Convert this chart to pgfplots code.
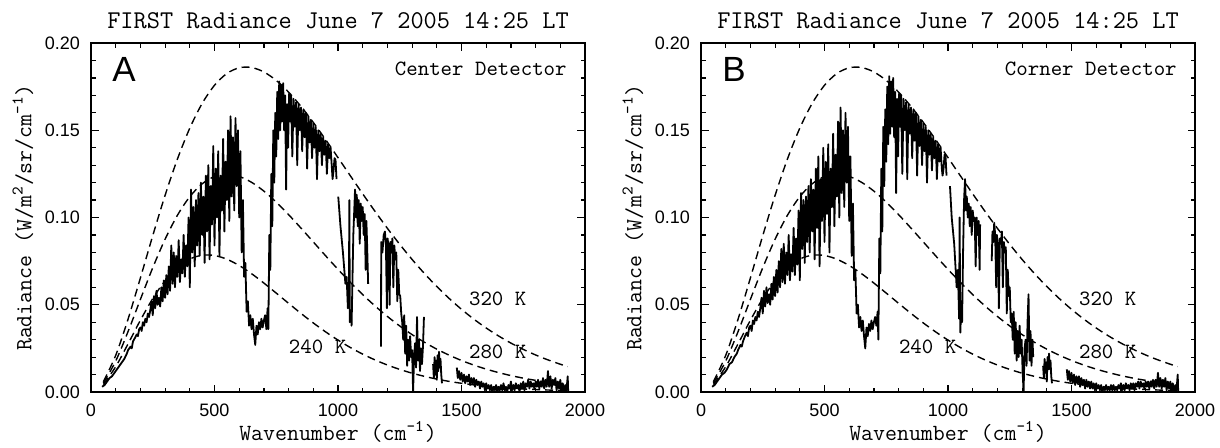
\documentclass[border=0pt]{standalone}
\usepackage{pgfplots}
\pgfplotsset{compat=1.18}
\usepackage{fontspec}
\newfontfamily\sansf{Liberation Sans}
\pgfplotstableread{
nu b240 b280 b320
50 0.00426 0.00508 0.00591
100 0.01450 0.01773 0.02098
150 0.02758 0.03461 0.04175
200 0.04113 0.05309 0.06537
250 0.05354 0.07121 0.08959
300 0.06380 0.08758 0.11272
350 0.07140 0.10131 0.13353
400 0.07622 0.11194 0.15123
450 0.07839 0.11930 0.16537
500 0.07822 0.12349 0.17578
550 0.07611 0.12478 0.18252
600 0.07250 0.12353 0.18581
650 0.06781 0.12017 0.18597
700 0.06242 0.11512 0.18341
750 0.05667 0.10882 0.17856
800 0.05081 0.10165 0.17185
850 0.04506 0.09394 0.16369
900 0.03958 0.08600 0.15450
950 0.03445 0.07805 0.14460
1000 0.02975 0.07029 0.13432
1050 0.02550 0.06285 0.12390
1100 0.02171 0.05583 0.11357
1150 0.01838 0.04930 0.10350
1200 0.01547 0.04330 0.09381
1250 0.01295 0.03783 0.08461
1300 0.01079 0.03290 0.07596
1350 0.00896 0.02849 0.06790
1400 0.00740 0.02457 0.06045
1450 0.00609 0.02111 0.05362
1500 0.00500 0.01807 0.04739
1550 0.00409 0.01542 0.04175
1600 0.00333 0.01312 0.03667
1650 0.00271 0.01113 0.03212
1700 0.00219 0.00941 0.02805
1750 0.00177 0.00794 0.02444
1800 0.00143 0.00668 0.02123
1850 0.00115 0.00561 0.01841
1900 0.00092 0.00470 0.01593
1930 0.00081 0.00422 0.01459
}\planck
\pgfplotsset{
  panel/.style={
    scale only axis, width=247pt, height=174.5pt,
    anchor=south west,
    xmin=0, xmax=2000, ymin=0, ymax=0.2,
    xtick={0,500,1000,1500,2000}, minor x tick num=4,
    ytick={0,0.05,0.1,0.15,0.2}, minor y tick num=4,
    tick align=inside, xtick pos=both, ytick pos=both,
    xticklabel pos=bottom, yticklabel pos=left,
    major tick length=3.75pt, minor tick length=2.25pt,
    axis line style={line width=0.9pt},
    every tick/.style={black, line width=0.6pt},
    tick label style={font=\sansf\fontsize{9}{10}\selectfont},
    /pgf/number format/assume math mode=true,
    /pgf/number format/1000 sep={},
    scaled y ticks=false,
    yticklabel style={/pgf/number format/fixed, /pgf/number format/fixed zerofill, /pgf/number format/precision=2, xshift=-2pt},
    xticklabel style={yshift=-2.5pt},
  },
  bb/.style={black, dash pattern=on 4pt off 2.5pt, line width=0.7pt, smooth},
  sp/.style={black, line width=0.9pt, line join=round},
}
\newcommand{\annot}{\ttfamily\fontsize{10.9}{11}\selectfont}
\newcommand{\lab}{\ttfamily\fontsize{11.6}{12}\selectfont}
\newcommand{\ttl}{\ttfamily\fontsize{12.8}{13}\selectfont}
\begin{document}
\begin{tikzpicture}
\useasboundingbox (0,0) rectangle (610pt,223.5pt);
% ---------------- Panel A ----------------
\begin{axis}[panel, name=A, at={(45.5pt,27.5pt)}]
\addplot[bb] table[x=nu,y=b240]{\planck};
\addplot[bb] table[x=nu,y=b280]{\planck};
\addplot[bb] table[x=nu,y=b320]{\planck};
\addplot[sp] coordinates {(45,0.003)(55,0.004)(65,0.006)(75,0.008)(85,0.009)(95,0.011)(105,0.013)(115,0.015)(125,0.017)(135,0.019)(145,0.022)(150,0.024)(160,0.026)(165,0.025)(170,0.029)(178,0.031)(185,0.033)(190,0.032)(195,0.036)(200,0.037)(205,0.035)(210,0.040)(215,0.038)(220,0.042)(225,0.040)(230,0.045)(235,0.043)(240,0.047)
(245,0.052)(250,0.044)(255,0.055)(260,0.048)(265,0.058)(270,0.050)(275,0.054)(280,0.049)(285,0.060)(290,0.052)(295,0.064)(300,0.054)(305,0.067)(310,0.056)(315,0.072)(320,0.058)(325,0.084)(330,0.062)(335,0.080)(340,0.060)(345,0.078)(350,0.066)(355,0.087)(360,0.063)(365,0.076)(370,0.068)(375,0.090)(380,0.066)(385,0.084)(390,0.072)(395,0.100)(400,0.060)(405,0.116)(410,0.080)(415,0.106)(420,0.072)(425,0.110)(430,0.084)(435,0.114)(440,0.078)(445,0.120)(450,0.090)(455,0.112)(460,0.074)(465,0.124)(470,0.092)(475,0.130)(480,0.076)(485,0.118)(490,0.096)(495,0.141)(500,0.084)(505,0.128)(510,0.100)(515,0.138)(520,0.078)(525,0.124)(530,0.104)(535,0.145)(540,0.092)(545,0.132)(550,0.110)(555,0.150)(560,0.098)(565,0.158)(570,0.112)(575,0.146)(580,0.104)(585,0.157)(590,0.118)(595,0.150)(600,0.100)(605,0.138)(610,0.080)(615,0.110)(620,0.066)(625,0.074)(630,0.046)(635,0.052)(640,0.038)(645,0.044)(650,0.036)(655,0.042)(660,0.033)(665,0.027)(670,0.038)(675,0.033)(680,0.040)(685,0.036)(690,0.042)(695,0.037)(700,0.041)(705,0.044)(710,0.036)(715,0.048)(718,0.036)(722,0.090)(726,0.070)(730,0.125)(734,0.095)(738,0.150)(742,0.120)(746,0.160)(750,0.135)(754,0.172)(758,0.145)(762,0.178)(766,0.150)(770,0.176)(774,0.155)(778,0.177)(782,0.150)(786,0.170)(790,0.116)(794,0.165)(798,0.140)
(802,0.171)(806,0.155)(810,0.170)(815,0.135)(820,0.168)(825,0.152)(830,0.166)(835,0.130)(840,0.165)(845,0.150)(850,0.163)(855,0.138)(860,0.162)(865,0.146)(870,0.160)(875,0.128)(880,0.158)(885,0.143)(890,0.156)(895,0.134)(900,0.154)(905,0.140)(910,0.152)(915,0.122)(920,0.150)(925,0.138)(930,0.148)(935,0.130)(940,0.146)(945,0.136)(950,0.144)(955,0.125)(960,0.142)(965,0.134)(970,0.140)(975,0.129)(978,0.122)(982,0.127)(986,0.134)(990,0.133)(994,0.122)};
\addplot[sp] coordinates {(1001,0.112)(1010,0.095)(1020,0.080)(1030,0.062)(1035,0.066)(1040,0.048)(1044,0.055)(1046,0.110)(1048,0.040)(1052,0.046)(1055,0.038)(1058,0.060)(1062,0.090)(1066,0.105)(1069,0.116)(1073,0.100)(1076,0.113)(1080,0.095)(1084,0.110)(1088,0.085)(1092,0.108)(1096,0.098)(1100,0.106)(1104,0.090)(1108,0.102)(1112,0.070)(1115,0.098)(1118,0.084)(1122,0.062)};
\addplot[sp] coordinates {(1174,0.026)(1175,0.086)(1180,0.080)(1185,0.090)(1190,0.092)(1194,0.084)(1198,0.048)(1201,0.088)(1205,0.082)(1209,0.050)(1212,0.086)(1216,0.080)(1220,0.088)(1224,0.060)(1228,0.084)(1232,0.076)(1236,0.080)(1240,0.052)(1244,0.070)(1248,0.056)(1252,0.055)(1256,0.045)(1260,0.040)(1264,0.030)(1268,0.044)(1272,0.022)(1276,0.038)(1280,0.015)(1284,0.030)(1288,0.018)(1292,0.032)(1296,0.020)(1300,0.024)(1304,0.000)(1308,0.020)(1312,0.028)(1316,0.014)(1320,0.043)(1324,0.018)(1328,0.030)(1332,0.012)(1336,0.025)(1340,0.016)(1344,0.026)(1348,0.043)};
\addplot[sp] coordinates {(1385,0.016)(1388,0.008)(1391,0.020)(1394,0.010)(1397,0.018)(1400,0.007)(1403,0.021)(1406,0.012)(1409,0.023)(1412,0.014)(1415,0.019)(1418,0.010)(1421,0.005)};
\addplot[sp] coordinates {(1481,0.014)(1485,0.008)(1490,0.012)(1495,0.007)(1500,0.011)(1505,0.006)(1510,0.010)(1515,0.005)(1520,0.009)(1525,0.006)(1530,0.010)(1535,0.004)(1540,0.008)(1545,0.005)(1550,0.008)(1555,0.003)(1560,0.007)(1565,0.004)(1570,0.006)(1575,0.002)(1580,0.006)(1585,0.003)(1590,0.005)(1595,0.001)(1600,0.005)(1605,0.002)(1610,0.004)(1615,0.001)(1620,0.004)(1625,0.000)(1630,0.003)(1635,0.001)(1640,0.004)(1645,0.000)(1650,0.003)(1655,0.001)(1660,0.004)(1665,0.001)(1670,0.005)(1675,0.001)(1680,0.003)(1685,0.000)(1690,0.004)(1695,0.002)(1700,0.006)(1705,0.001)(1710,0.004)(1715,0.001)(1720,0.005)(1725,0.002)(1730,0.004)(1735,0.000)(1740,0.005)(1745,0.002)(1750,0.006)(1755,0.001)(1760,0.005)(1765,0.003)(1770,0.007)(1775,0.002)(1780,0.006)(1785,0.003)(1790,0.005)(1795,0.002)(1800,0.006)(1805,0.003)(1810,0.007)(1815,0.002)(1820,0.006)(1825,0.003)(1830,0.008)(1835,0.002)(1840,0.007)(1845,0.003)(1850,0.012)(1855,0.003)(1860,0.009)(1865,0.002)(1870,0.007)(1875,0.004)(1880,0.008)(1885,0.001)(1890,0.006)(1895,0.002)(1900,0.007)(1905,0.001)(1910,0.005)(1915,0.000)(1920,0.004)(1925,0.001)(1930,0.009)(1932,0.000)};
\node[anchor=west, font=\annot] at (axis cs:1202,0.185) {Center Detector};
\node[anchor=west, font=\annot] at (axis cs:1502,0.0534) {320 K};
\node[anchor=west, font=\annot] at (axis cs:1502,0.023) {280 K};
\node[anchor=west, font=\annot] at (axis cs:773,0.0259) {240 K};
\node[font=\sansf\fontsize{17.5}{18}\selectfont] at (axis cs:134,0.185) {A};
\end{axis}
\node[anchor=base, font=\ttl] at ([yshift=7.5pt]A.north) {FIRST Radiance June 7 2005 14:25 LT};
\node[anchor=base, font=\lab] at ([yshift=-24pt]A.south) {Wavenumber (cm\textsuperscript{-1})};
\node[rotate=90, font=\lab] at ([xshift=-34pt]A.west) {Radiance (W/m\textsuperscript{2}/sr/cm\textsuperscript{-1})};
% ---------------- Panel B ----------------
\begin{axis}[panel, name=B, at={(350.5pt,27.5pt)}]
\addplot[bb] table[x=nu,y=b240]{\planck};
\addplot[bb] table[x=nu,y=b280]{\planck};
\addplot[bb] table[x=nu,y=b320]{\planck};
\addplot[sp] coordinates {(45,0.003)(55,0.004)(65,0.006)(75,0.008)(85,0.010)(95,0.011)(105,0.013)(115,0.016)(125,0.017)(135,0.020)(145,0.022)(150,0.024)(160,0.027)(165,0.026)(170,0.029)(178,0.032)(185,0.034)(190,0.032)(195,0.037)(200,0.038)(205,0.035)(210,0.041)(215,0.039)(220,0.043)(225,0.041)(230,0.046)(235,0.043)(240,0.048)
(245,0.054)(250,0.045)(255,0.058)(260,0.049)(265,0.060)(270,0.051)(275,0.056)(280,0.050)(285,0.062)(290,0.053)(295,0.066)(300,0.055)(305,0.070)(310,0.057)(315,0.075)(320,0.060)(325,0.082)(330,0.063)(335,0.085)(340,0.062)(345,0.080)(350,0.067)(355,0.090)(360,0.064)(365,0.079)(370,0.069)(375,0.094)(380,0.067)(385,0.088)(390,0.073)(395,0.104)(400,0.064)(405,0.114)(410,0.082)(415,0.110)(420,0.074)(425,0.112)(430,0.086)(435,0.118)(440,0.080)(445,0.122)(450,0.092)(455,0.116)(460,0.076)(465,0.128)(470,0.094)(475,0.135)(480,0.072)(485,0.122)(490,0.098)(495,0.140)(500,0.086)(505,0.132)(510,0.102)(515,0.142)(520,0.080)(525,0.128)(530,0.106)(535,0.148)(540,0.095)(545,0.136)(550,0.112)(555,0.155)(560,0.100)(565,0.163)(570,0.114)(575,0.150)(580,0.106)(585,0.160)(590,0.120)(595,0.152)(600,0.098)(605,0.135)(610,0.078)(615,0.108)(620,0.064)(625,0.070)(630,0.045)(635,0.050)(640,0.037)(645,0.043)(650,0.035)(655,0.041)(660,0.032)(665,0.025)(670,0.037)(675,0.032)(680,0.039)(685,0.035)(690,0.041)(695,0.036)(700,0.040)(705,0.043)(710,0.038)(715,0.046)(718,0.030)(722,0.088)(726,0.068)(730,0.128)(734,0.092)(738,0.152)(742,0.118)(746,0.162)(750,0.132)(754,0.175)(758,0.142)(762,0.181)(766,0.148)(770,0.178)(774,0.152)(778,0.180)(782,0.146)(786,0.172)(790,0.114)(794,0.168)(798,0.135)
(802,0.171)(806,0.152)(810,0.170)(815,0.125)(820,0.168)(825,0.150)(830,0.166)(835,0.122)(840,0.165)(845,0.148)(850,0.163)(855,0.134)(860,0.162)(865,0.144)(870,0.160)(875,0.124)(880,0.158)(885,0.141)(890,0.156)(895,0.130)(900,0.154)(905,0.138)(910,0.152)(915,0.120)(920,0.150)(925,0.136)(930,0.148)(935,0.127)(940,0.146)(945,0.134)(950,0.144)(955,0.122)(960,0.142)(965,0.132)(970,0.140)(975,0.128)(978,0.124)(982,0.128)(986,0.136)(990,0.135)(994,0.124)};
\addplot[sp] coordinates {(1008,0.118)(1015,0.100)(1025,0.085)(1035,0.060)(1040,0.070)(1045,0.042)(1047,0.100)(1050,0.034)(1053,0.048)(1057,0.040)(1061,0.080)(1065,0.110)(1069,0.122)(1073,0.104)(1076,0.112)(1080,0.100)(1084,0.108)(1088,0.095)(1092,0.106)(1096,0.090)(1100,0.104)(1104,0.098)(1108,0.100)(1112,0.072)(1116,0.100)(1120,0.090)(1124,0.098)(1128,0.070)(1130,0.096)};
\addplot[sp] coordinates {(1177,0.075)(1180,0.092)(1184,0.086)(1187,0.097)(1191,0.090)(1195,0.060)(1198,0.090)(1202,0.084)(1206,0.048)(1210,0.088)(1214,0.085)(1218,0.092)(1222,0.060)(1226,0.086)(1230,0.080)(1234,0.083)(1238,0.045)(1242,0.070)(1246,0.055)(1250,0.060)(1254,0.040)(1258,0.045)(1262,0.030)(1266,0.046)(1270,0.022)(1274,0.040)(1278,0.018)(1282,0.035)(1286,0.020)(1290,0.038)(1294,0.022)(1298,0.030)(1302,0.012)(1306,0.000)(1310,0.025)(1314,0.030)(1318,0.015)(1322,0.040)(1326,0.056)(1330,0.018)(1334,0.035)(1338,0.015)(1342,0.030)(1345,0.020)};
\addplot[sp] coordinates {(1385,0.015)(1388,0.008)(1391,0.019)(1394,0.011)(1397,0.017)(1400,0.006)(1403,0.020)(1406,0.013)(1409,0.022)(1412,0.013)(1415,0.018)(1418,0.009)(1421,0.005)};
\addplot[sp] coordinates {(1481,0.013)(1485,0.007)(1490,0.012)(1495,0.006)(1500,0.011)(1505,0.005)(1510,0.010)(1515,0.004)(1520,0.009)(1525,0.005)(1530,0.009)(1535,0.003)(1540,0.008)(1545,0.004)(1550,0.007)(1555,0.002)(1560,0.007)(1565,0.003)(1570,0.006)(1575,0.002)(1580,0.006)(1585,0.002)(1590,0.005)(1595,0.001)(1600,0.005)(1605,0.002)(1610,0.004)(1615,0.001)(1620,0.004)(1625,0.000)(1630,0.003)(1635,0.001)(1640,0.004)(1645,0.001)(1650,0.003)(1655,0.001)(1660,0.004)(1665,0.001)(1670,0.004)(1675,0.001)(1680,0.003)(1685,0.001)(1690,0.004)(1695,0.002)(1700,0.005)(1705,0.001)(1710,0.004)(1715,0.001)(1720,0.005)(1725,0.002)(1730,0.004)(1735,0.001)(1740,0.005)(1745,0.002)(1750,0.005)(1755,0.001)(1760,0.005)(1765,0.003)(1770,0.006)(1775,0.002)(1780,0.006)(1785,0.003)(1790,0.005)(1795,0.002)(1800,0.006)(1805,0.003)(1810,0.006)(1815,0.002)(1820,0.006)(1825,0.003)(1830,0.007)(1835,0.002)(1840,0.007)(1845,0.003)(1850,0.011)(1855,0.003)(1860,0.008)(1865,0.002)(1870,0.007)(1875,0.003)(1880,0.008)(1885,0.001)(1890,0.006)(1895,0.002)(1900,0.006)(1905,0.001)(1910,0.005)(1915,0.000)(1920,0.004)(1925,0.001)(1930,0.010)(1932,0.000)};
\node[anchor=west, font=\annot] at (axis cs:1202,0.185) {Corner Detector};
\node[anchor=west, font=\annot] at (axis cs:1502,0.0534) {320 K};
\node[anchor=west, font=\annot] at (axis cs:1502,0.023) {280 K};
\node[anchor=west, font=\annot] at (axis cs:773,0.0259) {240 K};
\node[font=\sansf\fontsize{17.5}{18}\selectfont] at (axis cs:134,0.185) {B};
\end{axis}
\node[anchor=base, font=\ttl] at ([yshift=7.5pt]B.north) {FIRST Radiance June 7 2005 14:25 LT};
\node[anchor=base, font=\lab] at ([yshift=-24pt]B.south) {Wavenumber (cm\textsuperscript{-1})};
\node[rotate=90, font=\lab] at ([xshift=-34pt]B.west) {Radiance (W/m\textsuperscript{2}/sr/cm\textsuperscript{-1})};
\end{tikzpicture}
\end{document}
